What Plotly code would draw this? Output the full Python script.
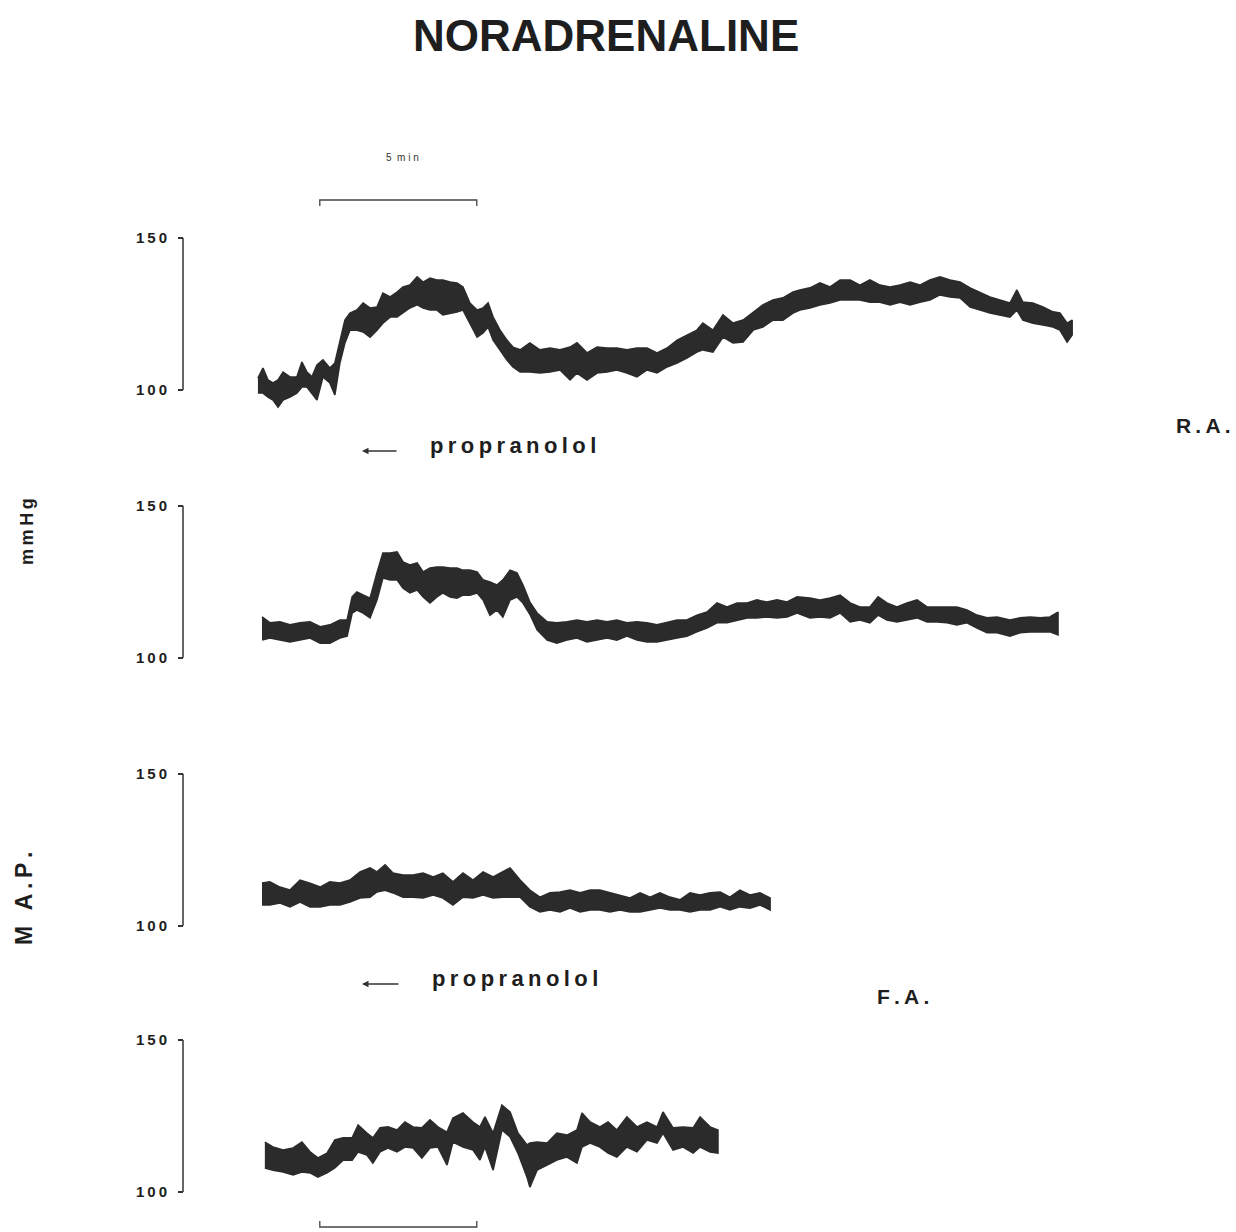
import plotly.graph_objects as go

# ---------------- data (minutes, mmHg) ----------------
t1 = [0.03,0.19,0.35,0.51,0.67,0.83,1.05,1.27,1.43,1.59,1.75,1.91,2.10,2.32,2.48,2.64,2.80,2.96,3.18,3.38,3.60,3.82,4.01,4.24,4.46,4.65,4.87,5.10,5.29,5.51,5.73,5.92,6.15,6.37,6.56,6.78,7.01,7.20,7.36,7.52,7.74,7.96,8.15,8.38,8.69,9.01,9.33,9.65,9.97,10.19,10.51,10.83,11.15,11.46,11.78,12.10,12.42,12.74,13.06,13.38,13.69,14.01,14.20,14.52,14.84,15.16,15.48,15.80,16.11,16.43,16.75,17.07,17.29,17.61,17.93,18.25,18.57,18.89,19.20,19.52,19.84,20.16,20.48,20.80,21.11,21.43,21.75,22.07,22.39,22.71,23.03,23.34,23.66,23.98,24.20,24.39,24.71,25.03,25.35,25.57,25.80,25.96]
hi1 = [103.9,107.2,103.3,102.3,103.3,105.9,104.3,104.3,109.2,105.9,104.3,108.2,109.9,107.2,108.9,116.4,123.0,125.3,126.3,128.6,127.0,127.3,131.9,130.6,132.2,133.9,134.5,137.2,135.5,136.8,136.2,136.2,135.5,135.2,133.9,128.6,126.3,127.0,128.6,124.0,119.7,116.4,114.1,113.2,115.5,113.2,113.8,113.2,114.1,115.5,112.2,114.1,113.8,113.8,113.2,113.8,113.8,112.2,113.8,116.4,118.1,119.7,122.0,119.7,124.7,122.0,123.0,125.7,128.0,129.6,130.3,132.2,132.9,133.6,135.2,133.9,136.2,136.2,134.5,136.2,134.5,133.9,134.5,135.5,134.5,136.2,137.2,136.2,135.5,133.6,132.2,130.6,129.6,128.6,132.9,128.9,128.6,127.3,125.7,125.3,122.0,123.0]
lo1 = [99.0,99.0,97.7,96.7,94.4,96.7,97.7,99.0,101.0,101.0,99.0,96.7,104.3,102.3,98.4,108.9,115.5,119.7,119.7,119.1,117.4,119.7,122.0,124.0,124.0,125.3,127.0,128.0,127.0,126.3,126.3,124.7,125.3,125.7,126.3,122.0,117.4,118.8,120.7,116.4,113.2,109.9,107.6,105.9,105.9,105.6,105.9,106.6,103.3,105.6,103.3,105.6,105.9,106.6,105.6,104.3,106.6,105.6,107.6,108.9,110.5,112.5,113.2,112.5,117.4,115.5,115.8,119.7,120.7,123.0,123.0,125.3,126.3,127.0,128.0,128.6,129.6,129.6,129.6,128.9,128.9,128.0,128.9,128.0,128.9,129.6,131.3,130.6,130.3,127.3,126.3,125.3,124.7,124.0,126.3,123.0,122.0,121.4,120.7,119.7,115.8,118.1]

t2 = [0.16,0.41,0.73,1.05,1.37,1.69,2.01,2.32,2.64,2.87,3.03,3.18,3.38,3.60,3.82,4.01,4.24,4.46,4.65,4.87,5.10,5.29,5.51,5.73,5.92,6.15,6.37,6.56,6.78,7.01,7.20,7.42,7.64,7.83,8.06,8.28,8.47,8.69,8.92,9.24,9.55,9.87,10.19,10.51,10.83,11.15,11.46,11.78,12.10,12.42,12.74,13.06,13.38,13.69,14.01,14.33,14.65,14.97,15.29,15.61,15.92,16.24,16.56,16.88,17.20,17.61,17.93,18.25,18.57,18.89,19.20,19.52,19.78,20.06,20.38,20.70,21.02,21.34,21.66,21.97,22.29,22.61,22.93,23.25,23.57,23.98,24.30,24.62,24.94,25.25,25.51]
hi2 = [113.4,111.5,111.8,110.8,111.5,111.8,110.2,110.8,112.4,112.4,120.0,121.6,120.6,119.6,127.9,134.4,134.4,134.8,131.5,130.5,131.2,128.2,129.5,129.8,129.8,129.5,129.5,128.8,128.8,128.2,125.6,124.9,123.9,125.6,128.8,127.9,123.9,118.3,114.7,111.8,111.5,111.8,112.4,111.8,112.4,111.8,112.4,111.5,111.8,111.5,110.8,111.5,112.4,112.4,114.0,115.0,118.0,116.7,118.0,118.0,119.0,118.3,119.0,118.3,120.0,119.6,119.0,119.6,120.6,118.0,116.7,116.7,120.0,118.0,116.7,118.0,119.0,116.7,116.7,116.7,116.7,115.7,114.0,113.1,113.4,112.4,113.1,113.4,113.1,113.4,115.0]
lo2 = [105.8,106.5,105.8,105.2,105.8,106.5,104.8,104.8,106.5,107.1,114.7,115.7,114.7,113.1,119.0,126.2,125.6,125.6,122.9,121.3,122.3,120.0,118.0,120.0,121.3,120.0,119.6,120.6,120.6,121.3,119.0,114.0,115.7,113.4,119.0,120.0,118.0,114.3,109.2,105.8,104.8,105.8,106.5,105.2,105.8,106.5,105.8,107.1,105.8,105.2,105.2,105.8,106.5,107.1,108.5,109.8,111.5,111.5,112.4,113.1,113.1,113.4,113.1,113.4,114.7,113.1,113.4,113.1,114.7,111.8,112.4,111.5,114.0,112.4,111.8,112.4,113.1,111.8,111.8,111.5,110.8,111.5,109.8,108.2,108.2,107.1,108.2,108.5,108.5,108.5,107.5]

t3 = [0.16,0.41,0.73,1.05,1.37,1.69,2.01,2.32,2.64,2.96,3.28,3.60,3.82,4.08,4.33,4.65,4.97,5.29,5.61,5.92,6.24,6.56,6.88,7.20,7.52,7.83,8.06,8.38,8.69,9.01,9.33,9.65,9.97,10.29,10.61,10.92,11.24,11.56,11.88,12.20,12.52,12.83,13.15,13.47,13.79,14.11,14.43,14.75,15.06,15.38,15.70,16.02,16.34]
hi3 = [114.0,114.4,112.7,111.7,115.0,114.0,112.7,114.4,114.0,115.0,117.7,119.0,117.7,120.0,117.3,116.7,116.7,117.3,116.0,117.3,114.4,117.3,115.0,117.7,116.0,117.7,119.0,115.0,111.7,109.4,110.8,111.1,111.7,110.8,111.7,111.7,110.8,110.1,109.1,110.8,109.4,110.8,109.4,108.5,110.8,110.1,110.8,111.1,109.4,111.7,110.1,110.8,109.1]
lo3 = [106.8,106.8,107.5,106.2,107.8,106.2,106.2,106.8,106.8,107.8,109.1,109.4,111.1,111.7,110.8,109.4,109.4,109.1,110.1,109.1,106.8,109.4,109.1,110.1,109.1,109.4,109.4,109.4,106.2,104.5,105.2,104.5,105.8,104.5,105.2,105.2,104.5,105.2,104.5,104.5,105.2,105.8,105.2,105.2,104.5,105.2,105.2,106.2,105.2,106.2,105.8,106.8,105.2]

t4 = [0.25,0.51,0.83,1.15,1.43,1.69,1.94,2.23,2.48,2.74,3.03,3.22,3.50,3.69,3.92,4.17,4.46,4.71,4.97,5.25,5.51,5.76,6.05,6.24,6.56,6.88,7.10,7.26,7.52,7.80,8.06,8.31,8.60,8.69,8.92,9.24,9.55,9.87,10.19,10.35,10.61,10.92,11.18,11.46,11.78,12.10,12.42,12.74,12.93,13.25,13.57,13.89,14.11,14.43,14.68]
hi4 = [116.4,114.8,113.8,114.5,116.4,113.2,111.2,112.8,117.1,117.8,117.8,122.0,119.4,117.8,121.1,121.4,120.4,123.0,121.4,121.1,123.7,121.4,119.7,124.3,126.0,123.0,121.4,124.7,119.4,128.6,126.3,119.4,115.5,116.1,116.4,116.1,119.4,118.7,120.4,126.0,123.0,121.4,123.0,120.4,124.7,121.4,123.0,121.4,126.3,121.1,121.4,121.1,124.7,121.4,120.4]
lo4 = [107.9,107.2,106.6,105.6,106.6,106.3,104.9,106.3,107.9,110.5,110.5,113.2,112.2,109.5,113.2,114.5,113.2,114.8,114.5,111.2,114.5,114.8,108.9,116.4,114.8,113.8,110.5,114.8,107.2,120.4,118.1,112.8,104.9,101.6,107.2,108.9,110.5,111.5,109.5,114.8,116.1,114.8,112.8,111.5,114.8,113.2,117.1,116.1,119.4,113.8,114.8,112.8,114.8,113.2,112.8]

tick_vals = [100, 150]
tick_text = ["100", "150"]
scale_bar = [2, 7]  # minutes (5 min)

# ---------------- layout helpers ----------------
W, H = 1236, 1232
PX_PER_MIN = 31.4
X0_PX = 257
PX_PER_MMHG = 3.04
Y100_PX = [390, 657.7, 925.7, 1192]
YR = [88, 162]
AX_X = 183 / W
INK = "#2b2b2b"
FONT = "Liberation Sans"
T = "\u2009"

def py(px):
    return 1 - px / H

def px_x(px):
    return px / W

fig = go.Figure()
panels = [(t1, hi1, lo1), (t2, hi2, lo2), (t3, hi3, lo3), (t4, hi4, lo4)]
layout_axes = {}
shapes = []
for i, (t, hi, lo) in enumerate(panels):
    yname = "y" if i == 0 else f"y{i+1}"
    lname = "yaxis" if i == 0 else f"yaxis{i+1}"
    fig.add_trace(go.Scatter(
        x=t + t[::-1], y=hi + lo[::-1], mode="lines", fill="toself",
        fillcolor=INK, line=dict(color=INK, width=1.6),
        xaxis="x", yaxis=yname, hoverinfo="skip", showlegend=False))
    y100 = Y100_PX[i]
    bottom = y100 + (100 - YR[0]) * PX_PER_MMHG
    top = y100 - (YR[1] - 100) * PX_PER_MMHG
    layout_axes[lname] = dict(
        domain=[py(bottom), py(top)], range=YR, anchor="free", position=AX_X,
        showgrid=False, zeroline=False, showline=False,
        ticks="outside", ticklen=5, tickwidth=1.5, tickcolor="#333",
        tickvals=tick_vals, ticktext=[f"<b>{T.join(s)}</b>" for s in tick_text],
        tickfont=dict(family=FONT, size=15, color="#1e1e1e"),
        ticklabelstandoff=8, fixedrange=True)
    shapes.append(dict(type="line", xref="paper", yref=yname, x0=AX_X, x1=AX_X,
                       y0=100, y1=150, line=dict(color="#333", width=1.5)))

# time scale bars
shapes.append(dict(type="path", xref="x", yref="paper",
                   path=f"M {scale_bar[0]},{py(206)} L {scale_bar[0]},{py(200)} L {scale_bar[1]},{py(200)} L {scale_bar[1]},{py(206)}",
                   line=dict(color="#444", width=1.3)))
shapes.append(dict(type="path", xref="x", yref="paper",
                   path=f"M {scale_bar[0]},{py(1221)} L {scale_bar[0]},{py(1227)} L {scale_bar[1]},{py(1227)} L {scale_bar[1]},{py(1221)}",
                   line=dict(color="#444", width=1.3)))

annotations = [
    dict(text="<b>NORADRENALINE</b>", x=px_x(606), y=py(35), font=dict(family=FONT, size=44, color="#1e1e1e")),
    dict(text="5  m i n", x=px_x(402), y=py(157), font=dict(family=FONT, size=10, color="#333")),
    dict(text="<b>" + T.join("propranolol") + "</b>", x=px_x(428), y=py(445), xanchor="left",
         font=dict(family=FONT, size=22, color="#1e1e1e")),
    dict(text="<b>" + T.join("propranolol") + "</b>", x=px_x(430), y=py(979), xanchor="left",
         font=dict(family=FONT, size=22, color="#1e1e1e")),
    dict(text="<b>" + T.join("R.A.") + "</b>", x=px_x(1203), y=py(426), font=dict(family=FONT, size=21, color="#1e1e1e")),
    dict(text="<b>" + T.join("F.A.") + "</b>", x=px_x(903), y=py(996), font=dict(family=FONT, size=21, color="#1e1e1e")),
    dict(text="<b>" + T.join("mmHg") + "</b>", x=px_x(27), y=py(532), textangle=-90, font=dict(family=FONT, size=18, color="#1e1e1e")),
    dict(text="<b>" + T.join("M A.P.") + "</b>", x=px_x(24), y=py(898), textangle=-90, font=dict(family=FONT, size=23, color="#1e1e1e")),
]
for a in annotations:
    a.setdefault("xanchor", "center")
    a.update(xref="paper", yref="paper", showarrow=False, yanchor="middle")

# arrows
for y_px, tail_px in [(451, 398), (984, 400)]:
    annotations.append(dict(x=px_x(362), y=py(y_px), xref="paper", yref="paper", text="",
                            showarrow=True, ax=tail_px - 362, ay=0, arrowhead=2,
                            arrowsize=1, arrowwidth=1.3, arrowcolor="#333"))

fig.update_layout(
    width=W, height=H, margin=dict(l=0, r=0, t=0, b=0),
    paper_bgcolor="white", plot_bgcolor="white",
    xaxis=dict(domain=[0, 1], range=[-X0_PX / PX_PER_MIN, (W - X0_PX) / PX_PER_MIN],
               visible=False, fixedrange=True, anchor="y"),
    shapes=shapes, annotations=annotations, showlegend=False,
    **layout_axes)

fig.write_html("out.html")
